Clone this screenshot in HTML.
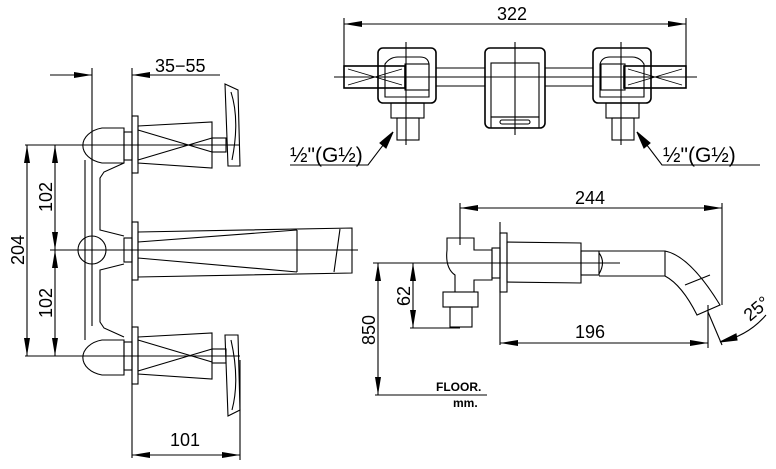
<!DOCTYPE html>
<html><head><style>
html,body{margin:0;padding:0;background:#fff}
svg{display:block}
text{font-family:"Liberation Sans",sans-serif;fill:#000}
</style></head><body>
<svg width="776" height="469" viewBox="0 0 776 469" xmlns="http://www.w3.org/2000/svg">
<defs>
<marker id="a" viewBox="0 0 18 6" refX="18" refY="3" markerWidth="18" markerHeight="6" orient="auto-start-reverse" markerUnits="userSpaceOnUse"><path d="M0,0 L18,3 L0,6z" fill="#000"/></marker>
</defs>
<g stroke="#000" stroke-width="1.1" fill="none">
<!-- LEFT VIEW -->
<line x1="50" y1="75" x2="92" y2="75" marker-end="url(#a)"/>
<line x1="220" y1="75" x2="132" y2="75" marker-end="url(#a)"/>
<line x1="92" y1="68" x2="92" y2="326"/>
<line x1="85" y1="160" x2="85" y2="340"/>
<line x1="132" y1="68" x2="132" y2="458"/>
<line x1="25" y1="145" x2="240" y2="145"/>
<line x1="50" y1="250" x2="358" y2="250"/>
<line x1="25" y1="356" x2="240" y2="356"/>
<line x1="27" y1="145" x2="27" y2="356" marker-start="url(#a)" marker-end="url(#a)"/>
<line x1="55" y1="145" x2="55" y2="250" marker-start="url(#a)" marker-end="url(#a)"/>
<line x1="55" y1="250" x2="55" y2="356" marker-start="url(#a)" marker-end="url(#a)"/>
<line x1="132" y1="455" x2="240" y2="455" marker-start="url(#a)" marker-end="url(#a)"/>
<line x1="240" y1="360" x2="240" y2="460"/>
<!-- body arms -->
<path d="M124,163 L104,172 L100,178 L100,230 L124,236"/>
<path d="M124,264 L100,270 L100,322 L104,328 L124,337"/>
<!-- top handle -->
<path d="M124,128 L102,128 A25,18 0 0 0 102,163 L124,163 Z"/>
<rect x="124" y="132" width="8" height="28"/>
<rect x="132" y="116" width="6" height="57"/>
<path d="M138,126 L212,122 L212,168 L138,163 Z M138,130 L212,152 M138,160 L212,138"/>
<rect x="212" y="138" width="14" height="14"/>
<path d="M225,84 L238,90 L240,166 L228,166 Z M231,92 Q240,120 232,160"/>
<!-- bottom handle -->
<path d="M124,340 L102,340 A25,18 0 0 0 102,375 L124,375 Z"/>
<rect x="124" y="342" width="8" height="28"/>
<rect x="132" y="327" width="6" height="57"/>
<path d="M138,337 L212,333 L212,379 L138,374 Z M138,340 L212,362 M138,371 L212,349"/>
<rect x="212" y="349" width="14" height="14"/>
<path d="M225,335 L238,335 L240,410 L228,416 Z M231,340 Q240,380 232,410"/>
<!-- spout -->
<circle cx="92" cy="250" r="14"/>
<rect x="124" y="238" width="8" height="24"/>
<rect x="132" y="222" width="6" height="58"/>
<path d="M138,232 L352,228 L352,273 L138,277 Z M138,242 L297,230 M138,258 L297,272 M297,230 L297,272 M340,229 L334,272"/>
<!-- TOP VIEW -->
<line x1="344" y1="24" x2="686" y2="24" marker-start="url(#a)" marker-end="url(#a)"/>
<line x1="344" y1="18" x2="344" y2="80"/>
<line x1="686" y1="18" x2="686" y2="80"/>
<line x1="334" y1="77" x2="697" y2="77"/>
<line x1="436" y1="68" x2="485" y2="68"/><line x1="436" y1="86" x2="485" y2="86"/>
<line x1="545" y1="68" x2="593" y2="68"/><line x1="545" y1="86" x2="593" y2="86"/>
<rect x="378" y="48" width="58" height="55" rx="5" stroke-width="1.6"/>
<path d="M385,97 L385,64 Q390,57 398,57 L420,57 Q428,57 429,64 L429,97 Z"/>
<rect x="344" y="66" width="61" height="22" stroke-width="1.6"/>
<path d="M348,69 L402,85 M348,85 L402,69 M348,77 L402,77" stroke-width="0.8"/>
<rect x="405" y="64" width="24" height="26"/>
<rect x="593" y="48" width="58" height="55" rx="5" stroke-width="1.6"/>
<path d="M600,97 L600,64 Q602,57 610,57 L632,57 Q640,57 644,64 L644,97 Z"/>
<rect x="624" y="66" width="62" height="22" stroke-width="1.6"/>
<path d="M628,69 L682,85 M628,85 L682,69 M628,77 L682,77" stroke-width="0.8"/>
<rect x="601" y="64" width="24" height="26"/>
<rect x="485" y="48" width="60" height="80" rx="5" stroke-width="1.6"/>
<rect x="491" y="63" width="48" height="54"/>
<rect x="491" y="117" width="48" height="11"/>
<rect x="500" y="120" width="30" height="4" rx="2"/>
<line x1="406" y1="42" x2="406" y2="145"/><line x1="515" y1="42" x2="515" y2="135"/><line x1="621" y1="42" x2="621" y2="145"/>
<rect x="391" y="103" width="33" height="15"/><rect x="397" y="118" width="22" height="22"/>
<rect x="606" y="103" width="33" height="15"/><rect x="612" y="118" width="22" height="22"/>
<path d="M290,165 L368,165 L393,132" /><path d="M393,132 L386,148 L380,143 Z" fill="#000"/>
<path d="M760,165 L662,165 L637,132"/><path d="M637,132 L650,143 L644,148 Z" fill="#000"/>
<!-- SIDE VIEW -->
<line x1="460" y1="208" x2="722" y2="208" marker-start="url(#a)" marker-end="url(#a)"/>
<line x1="460" y1="203" x2="460" y2="245"/>
<line x1="722" y1="203" x2="722" y2="305"/>
<line x1="373" y1="263" x2="620" y2="263"/>
<line x1="378" y1="263" x2="378" y2="395" marker-start="url(#a)" marker-end="url(#a)"/>
<line x1="413" y1="263" x2="413" y2="328" marker-start="url(#a)" marker-end="url(#a)"/>
<line x1="410" y1="328" x2="460" y2="328"/>
<line x1="375" y1="395" x2="487" y2="395"/>
<path d="M447,238 L474,238 L474,250 L492,250 L492,280 L474,280 L474,292 L455,292 L455,275 Q445,268 447,250 Z"/>
<rect x="492" y="248" width="8" height="30"/>
<rect x="443" y="292" width="35" height="15"/><rect x="450" y="307" width="22" height="20"/>
<line x1="500" y1="222" x2="500" y2="345"/>
<rect x="500" y="233" width="7" height="59"/>
<path d="M507,242 L581,243 L581,283 L507,282 Z"/>
<rect x="581" y="251" width="18" height="24"/>
<path d="M599,253 Q606,262 599,274"/>
<path d="M599,251 L665,251 Q690,256 720,305 L697,315 Q682,285 665,276 L599,276 M665,251 L665,276 M685,285 L710,275"/>
<line x1="500" y1="343" x2="708" y2="343" marker-start="url(#a)" marker-end="url(#a)"/>
<line x1="708" y1="305" x2="708" y2="348"/>
<line x1="708" y1="312" x2="722" y2="345"/>
<path d="M720,342 Q748,336 766,315"/><path d="M720,342 L736,334 L737,340 Z" fill="#000"/>
</g>
<g font-size="18">
<text x="155" y="72">35−55</text>
<text x="170" y="446">101</text>
<text x="497" y="20">322</text>
<text x="575" y="204">244</text>
<text x="575" y="338">196</text>
<text transform="translate(24,250) rotate(-90)" text-anchor="middle">204</text>
<text transform="translate(52,197) rotate(-90)" text-anchor="middle">102</text>
<text transform="translate(52,303) rotate(-90)" text-anchor="middle">102</text>
<text transform="translate(410,296) rotate(-90)" text-anchor="middle">62</text>
<text transform="translate(375,330) rotate(-90)" text-anchor="middle">850</text>
<text transform="translate(750,322) rotate(-40)">25°</text>
</g>
<g font-size="21">
<text x="290" y="162">½"(G½)</text>
<text x="663" y="162">½"(G½)</text>
</g>
<text x="436" y="391" font-size="12" font-weight="bold">FLOOR.</text>
<text x="453" y="407" font-size="12" font-weight="bold">mm.</text>
</svg>
</body></html>
